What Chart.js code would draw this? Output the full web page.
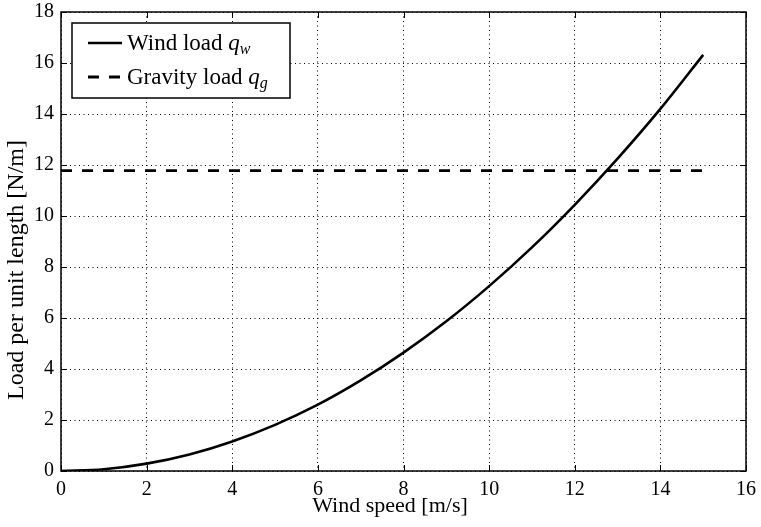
<!DOCTYPE html>
<html>
<head>
<meta charset="utf-8">
<script src="https://cdn.jsdelivr.net/npm/chart.js@4.4.1/dist/chart.umd.min.js"></script>
<style>
html, body { margin: 0; padding: 0; background: #fff; }
</style>
</head>
<body>
<canvas id="chart" width="761" height="527"></canvas>
<script>
// values
var speeds = [0, 1, 2, 3, 4, 5, 6, 7, 8, 9, 10, 11, 12, 13, 14, 15];
var windLoad = [0, 0.07, 0.29, 0.65, 1.16, 1.81, 2.6, 3.55, 4.64, 5.87, 7.25, 8.77, 10.44, 12.25, 14.2, 16.32];
var gravitySpeeds = [0, 15];
var gravityLoad = [11.78, 11.78];
var xTicks = [0, 2, 4, 6, 8, 10, 12, 14, 16];
var yTicks = [0, 2, 4, 6, 8, 10, 12, 14, 16, 18];

function points(xs, ys) {
    var out = [];
    for (var i = 0; i < xs.length; i++) {
        out.push({x: xs[i], y: ys[i]});
    }
    return out;
}

var serif = "'Liberation Serif', 'Times New Roman', serif";
Chart.defaults.font.family = serif;
Chart.defaults.font.size = 20;
Chart.defaults.color = '#000';

// frame, inward ticks, axis titles and the legend box
var decor = {
    id: 'decor',
    afterDraw: function(chart) {
        var ctx = chart.ctx;
        var a = chart.chartArea;
        var xs = chart.scales.x, ys = chart.scales.y;
        ctx.save();
        ctx.strokeStyle = '#000';
        ctx.lineWidth = 1.5;
        ctx.setLineDash([]);
        ctx.strokeRect(a.left, a.top, a.right - a.left, a.bottom - a.top);

        ctx.lineWidth = 1;
        var tl = 6;
        ctx.beginPath();
        xs.ticks.forEach(function(t) {
            var px = Math.round(xs.getPixelForValue(t.value)) + 0.5;
            ctx.moveTo(px, a.bottom); ctx.lineTo(px, a.bottom - tl);
            ctx.moveTo(px, a.top); ctx.lineTo(px, a.top + tl);
        });
        ys.ticks.forEach(function(t) {
            var py = Math.round(ys.getPixelForValue(t.value)) + 0.5;
            ctx.moveTo(a.left, py); ctx.lineTo(a.left + tl, py);
            ctx.moveTo(a.right, py); ctx.lineTo(a.right - tl, py);
        });
        ctx.stroke();

        // axis titles
        ctx.fillStyle = '#000';
        ctx.textAlign = 'center';
        ctx.textBaseline = 'alphabetic';
        ctx.font = '22px ' + serif;
        ctx.fillText('Wind speed [m/s]', 390, 512);
        ctx.save();
        ctx.translate(23, 270);
        ctx.rotate(-Math.PI / 2);
        ctx.font = '24px ' + serif;
        ctx.fillText('Load per unit length [N/m]', 0, 0);
        ctx.restore();

        // legend
        ctx.fillStyle = '#fff';
        ctx.fillRect(72, 23, 218, 75);
        ctx.lineWidth = 1.5;
        ctx.strokeRect(72, 23, 218, 75);
        var rows = [43, 77];
        chart.data.datasets.forEach(function(ds, i) {
            var y = rows[i];
            ctx.strokeStyle = ds.borderColor;
            ctx.lineWidth = ds.borderWidth;
            ctx.setLineDash(ds.borderDash || []);
            ctx.beginPath();
            ctx.moveTo(88, y);
            ctx.lineTo(122, y);
            ctx.stroke();
            ctx.setLineDash([]);
            ctx.fillStyle = '#000';
            ctx.textAlign = 'left';
            ctx.textBaseline = 'alphabetic';
            ctx.font = '23px ' + serif;
            var x = 127;
            ctx.fillText(ds.label + ' ', x, y + 7);
            x += ctx.measureText(ds.label + ' ').width;
            ctx.font = 'italic 23px ' + serif;
            ctx.fillText(ds.symbol, x, y + 7);
            x += ctx.measureText(ds.symbol).width;
            ctx.font = 'italic 16px ' + serif;
            ctx.fillText(ds.sub, x, y + 11);
        });
        ctx.restore();
    }
};

new Chart(document.getElementById('chart'), {
    type: 'line',
    data: {
        datasets: [{
            label: 'Wind load',
            symbol: 'q',
            sub: 'w',
            data: points(speeds, windLoad),
            borderColor: '#000',
            borderWidth: 2.6,
            pointRadius: 0,
            cubicInterpolationMode: 'monotone',
            fill: false
        }, {
            label: 'Gravity load',
            symbol: 'q',
            sub: 'g',
            data: points(gravitySpeeds, gravityLoad),
            borderColor: '#000',
            borderWidth: 2.8,
            borderDash: [11, 10],
            pointRadius: 0,
            fill: false
        }]
    },
    options: {
        responsive: false,
        animation: false,
        devicePixelRatio: 1,
        layout: {padding: {top: 12, right: 15, left: 0, bottom: 0}},
        plugins: {legend: {display: false}, tooltip: {enabled: false}},
        scales: {
            x: {
                type: 'linear',
                min: 0,
                max: 16,
                afterBuildTicks: function(s) { s.ticks = xTicks.map(function(v) { return {value: v}; }); },
                afterFit: function(s) { s.height = 56; s.paddingLeft = 0; s.paddingRight = 0; },
                grid: {color: '#000', lineWidth: 1, drawTicks: false},
                border: {display: false, dash: [1, 3.5]},
                ticks: {padding: 7, maxRotation: 0, font: {size: 20}}
            },
            y: {
                type: 'linear',
                min: 0,
                max: 18,
                afterBuildTicks: function(s) { s.ticks = yTicks.map(function(v) { return {value: v}; }); },
                afterFit: function(s) { s.width = 61; s.paddingTop = 0; s.paddingBottom = 0; },
                grid: {color: '#000', lineWidth: 1, drawTicks: false},
                border: {display: false, dash: [1, 3.5]},
                ticks: {padding: 7, font: {size: 20}}
            }
        }
    },
    plugins: [decor]
});
</script>
</body>
</html>
